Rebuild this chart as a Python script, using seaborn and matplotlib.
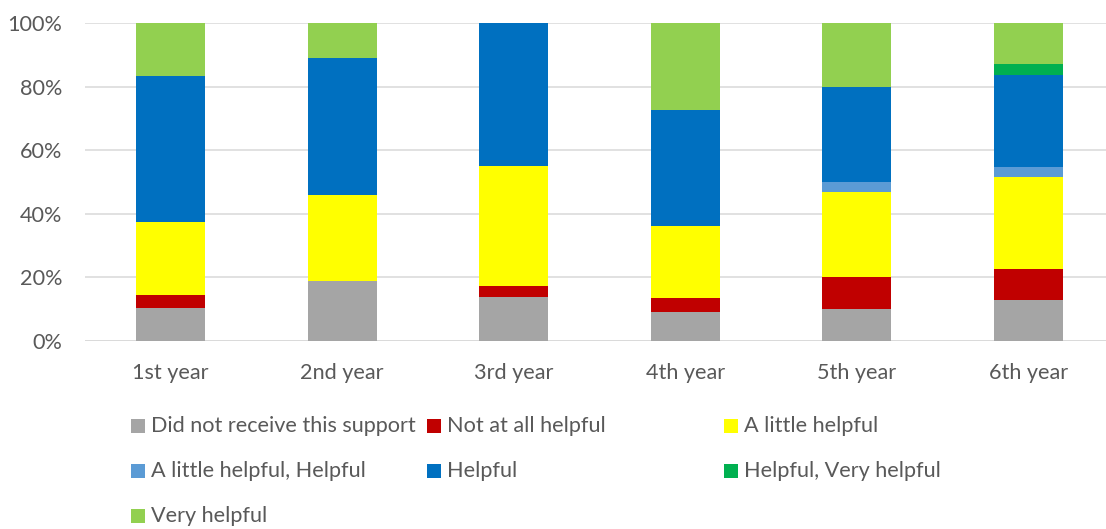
import matplotlib
matplotlib.use("Agg")
import matplotlib.pyplot as plt
from matplotlib.patches import Rectangle
import numpy as np
import pandas as pd
import seaborn as sns

# Survey responses by year of study (percent of respondents)
years = ["1st year", "2nd year", "3rd year", "4th year", "5th year", "6th year"]
series_names = [
    "Did not receive this support",
    "Not at all helpful",
    "A little helpful",
    "A little helpful, Helpful",
    "Helpful",
    "Helpful, Very helpful",
    "Very helpful",
]
did_not_receive = [10.4, 18.9, 13.8, 9.1, 10.0, 12.9]
not_at_all = [4.2, 0.0, 3.4, 4.5, 10.0, 9.7]
a_little = [22.9, 27.0, 37.9, 22.7, 26.7, 29.0]
a_little_helpful = [0.0, 0.0, 0.0, 0.0, 3.3, 3.2]
helpful = [45.8, 43.2, 44.9, 36.4, 30.0, 29.0]
helpful_very = [0.0, 0.0, 0.0, 0.0, 0.0, 3.2]
very_helpful = [16.7, 10.9, 0.0, 27.3, 20.0, 13.0]

colors = ["#A5A5A5", "#C00000", "#FFFF00", "#5B9BD5", "#0070C0", "#00B050", "#92D050"]
text_color = "#595959"
grid_color = "#D9D9D9"
fs = 15.6

sns.set_theme(style="white")
plt.rcParams["font.family"] = ["Lato", "DejaVu Sans"]

series = [did_not_receive, not_at_all, a_little, a_little_helpful,
          helpful, helpful_very, very_helpful]
cum = np.cumsum(np.array(series), axis=0)

fig = plt.figure(figsize=(11.06, 5.29), dpi=100)
ax = fig.add_axes([85 / 1106, 188 / 529, 1029 / 1106, 318 / 529])

# Stacked bars: draw cumulative totals from the top series down
for i in range(len(series) - 1, -1, -1):
    df = pd.DataFrame({"year": years, "value": cum[i]})
    sns.barplot(data=df, x="year", y="value", color=colors[i], width=0.4,
                saturation=1, ax=ax, zorder=2, linewidth=0)

ax.set_xlim(-0.5, 5.5)
ax.set_ylim(0, 100)
ax.set_yticks(range(0, 101, 20))
ax.set_yticklabels([f"{v}%" for v in range(0, 101, 20)])
ax.yaxis.grid(True, color=grid_color, linewidth=1.1, zorder=0)
ax.set_axisbelow(True)
for s in ax.spines.values():
    s.set_visible(False)
ax.axhline(0, color=grid_color, linewidth=1.1, zorder=1)
ax.set_xlabel("")
ax.set_ylabel("")
ax.tick_params(axis="y", length=0, pad=16.5, labelsize=fs, labelcolor=text_color)
ax.tick_params(axis="x", length=0, pad=15.5, labelsize=fs, labelcolor=text_color)

# Legend laid out in three equal-width columns below the chart
col_x = [131, 427, 724]
row_y = [426, 471, 516]
sq = 14
for k, name in enumerate(series_names):
    r, c = divmod(k, 3)
    x0, yc = col_x[c], row_y[r]
    fig.add_artist(Rectangle((x0 / 1106, 1 - (yc + sq / 2) / 529), sq / 1106, sq / 529,
                             transform=fig.transFigure, facecolor=colors[k],
                             edgecolor="none"))
    fig.text((x0 + 20) / 1106, 1 - yc / 529, name, ha="left", va="center",
             fontsize=fs, color=text_color)

fig.savefig("out.png", dpi=100)
